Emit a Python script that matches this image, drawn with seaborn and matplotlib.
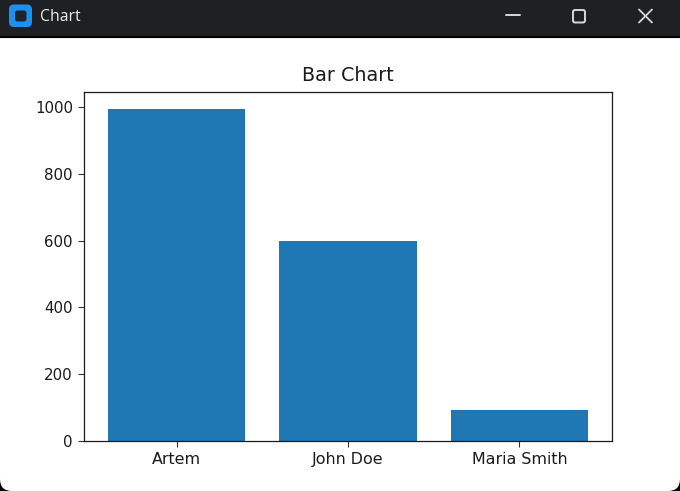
import matplotlib
matplotlib.use("Agg")
import matplotlib.pyplot as plt
import seaborn as sns
import pandas as pd
from matplotlib.patches import Rectangle, FancyBboxPatch
from matplotlib.lines import Line2D
from matplotlib.transforms import Affine2D

names = ["Artem", "John Doe", "Maria Smith"]
values = [994, 600, 92]
y_ticks = [0, 200, 400, 600, 800, 1000]
chart_title = "Bar Chart"
window_title = "Chart"

W, H = 680, 491
sns.set_style("ticks")
plt.rcParams['font.family'] = ['DejaVu Sans']
plt.rcParams['text.color'] = '#1a1a1a'

fig = plt.figure(figsize=(W / 100, H / 100), dpi=100)
fig.patch.set_facecolor("black")

def px(x, y, w, h):
    return (x / W, 1 - (y + h) / H, w / W, h / H)

pt = Affine2D().scale(1, -1).translate(0, H)  # pixel coords, y down
# window body with rounded bottom corners, sits behind the axes
fig.add_artist(FancyBboxPatch((0, 20), W, H - 20, boxstyle="round,pad=0,rounding_size=12",
                              fc="white", ec="none", transform=pt, zorder=-5))
fig.add_artist(Rectangle((0, 0), W, 36, fc="#1f2023", ec="none", transform=pt, zorder=-4))
fig.add_artist(Rectangle((0, 36), W, 1.5, fc="#000000", ec="none", transform=pt, zorder=-4))
fig.add_artist(Rectangle((0, 37.5), W, 1.2, fc="#e6e6e6", ec="none", transform=pt, zorder=-4))

# app icon
fig.add_artist(FancyBboxPatch((9, 4.5), 23, 22.5, boxstyle="round,pad=0,rounding_size=5",
                              fc="#1e90ee", ec="none", transform=pt, zorder=-3))
fig.add_artist(FancyBboxPatch((15, 10.5), 11.5, 11, boxstyle="round,pad=0,rounding_size=2.5",
                              fc="#20242c", ec="none", transform=pt, zorder=-2))
fig.text(40 / W, 1 - 17 / H, window_title, color="#ececec", fontsize=11.3,
         va="center", ha="left", family="Open Sans")

# window buttons
fig.add_artist(Line2D([506, 520], [14.5, 14.5], color="#d8d8d8", lw=1.4, transform=pt))
fig.add_artist(FancyBboxPatch((573, 10), 12, 12.5, boxstyle="round,pad=0,rounding_size=2",
                              fc="none", ec="#d8d8d8", lw=1.4, transform=pt))
fig.add_artist(Line2D([639, 652], [9.5, 22.5], color="#d8d8d8", lw=1.3, transform=pt))
fig.add_artist(Line2D([639, 652], [22.5, 9.5], color="#d8d8d8", lw=1.3, transform=pt))

# chart
ax = fig.add_axes(px(84, 92, 528, 349))
df = pd.DataFrame({"name": names, "value": values})
sns.barplot(data=df, x="name", y="value", color="#1f77b4", saturation=1, width=0.8,
            linewidth=0, ax=ax)
ax.set_xlim(-0.54, 2.54)
ax.set_ylim(0, 1045)
ax.set_yticks(y_ticks)
ax.set_xlabel("")
ax.set_ylabel("")
ax.set_title(chart_title, fontsize=13.8, color="#1a1a1a", pad=8)
ax.tick_params(length=4.5, width=0.8, color="#333333", labelcolor="#1a1a1a")
ax.tick_params(axis="x", labelsize=11.4)
ax.tick_params(axis="y", labelsize=10.8)
ax.set_facecolor("white")
for s in ax.spines.values():
    s.set_visible(True)
    s.set_linewidth(0.9)
    s.set_color("#1a1a1a")

fig.savefig("out.png", dpi=100, facecolor=fig.get_facecolor())
